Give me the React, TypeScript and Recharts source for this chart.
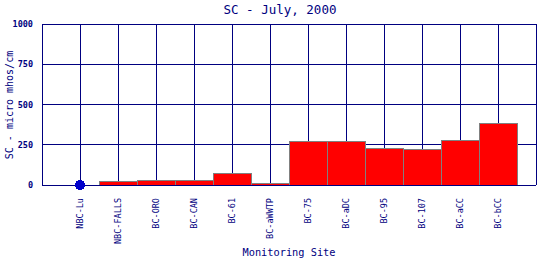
import React from 'react';
import { ComposedChart, Bar, Line, XAxis, YAxis, CartesianGrid } from 'recharts';

const sites = ['NBC-Lu', 'NBC-FALLS', 'BC-ORO', 'BC-CAN', 'BC-61', 'BC-aWWTP', 'BC-75', 'BC-aDC', 'BC-95', 'BC-107', 'BC-aCC', 'BC-bCC'];
const scValues: (number | null)[] = [null, 20, 29, 29, 73, 10, 269, 269, 226, 219, 278, 383];
const markerValues: (number | null)[] = [0, null, null, null, null, null, null, null, null, null, null, null];
const yTicks = [0, 250, 500, 750, 1000];

const data = sites.map((s, i) => ({ site: s, sc: scValues[i], marker: markerValues[i] }));

const NAVY = '#000080';
const FONT = '"DejaVu Sans Mono", monospace';

const XTick = (props: any) => {
  const { x, y, payload } = props;
  return (
    <text x={x} y={y} transform={`rotate(-90 ${x} ${y})`} dx={-5} dy={3} textAnchor="end" fontFamily={FONT} fontSize={8.5} fill={NAVY}>
      {payload.value}
    </text>
  );
};

export default function App() {
  return (
    <div style={{ position: 'absolute', left: 0, top: 0, width: 540, height: 260, background: '#fff' }}>
      <svg style={{ position: 'absolute', left: 0, top: 0 }} width={540} height={260}>
        <text x={280} y={14} textAnchor="middle" fontFamily={FONT} fontSize={12.5} fill={NAVY}>SC - July, 2000</text>
        <text x={0} y={0} transform="translate(13 105) rotate(-90)" textAnchor="middle" fontFamily={FONT} fontSize={10} fill={NAVY}>SC - micro mhos/cm</text>
        <text x={289} y={256} textAnchor="middle" fontFamily={FONT} fontSize={10.3} fill={NAVY}>Monitoring Site</text>
      </svg>
      <ComposedChart width={540} height={260} data={data} margin={{ top: 24, right: 4, left: 0, bottom: 0 }} barCategoryGap={0} style={{ position: 'absolute', left: 0, top: 0, shapeRendering: 'crispEdges' }}>
        <CartesianGrid yAxisId="left" stroke={NAVY} strokeWidth={1} />
        <XAxis dataKey="site" padding={{ left: 19, right: 19 }} height={75} interval={0} tick={<XTick />} tickLine={false} axisLine={{ stroke: NAVY }} />
        <YAxis yAxisId="left" domain={[0, 1000]} ticks={yTicks} width={42} tickLine={false} axisLine={{ stroke: NAVY }} tick={{ fontFamily: FONT, fontSize: 8.5, fill: NAVY, fontWeight: 'bold' }} tickMargin={3} />
        <YAxis yAxisId="right" orientation="right" domain={[0, 1000]} ticks={yTicks} width={0} tick={false} tickLine={false} axisLine={{ stroke: NAVY }} />
        <Bar yAxisId="left" dataKey="sc" fill="#ff0000" stroke="#808080" strokeWidth={1} isAnimationActive={false} />
        <Line yAxisId="left" dataKey="marker" stroke="none" dot={{ r: 4.5, fill: '#0000cc', stroke: '#0000cc' }} isAnimationActive={false} />
      </ComposedChart>
    </div>
  );
}
